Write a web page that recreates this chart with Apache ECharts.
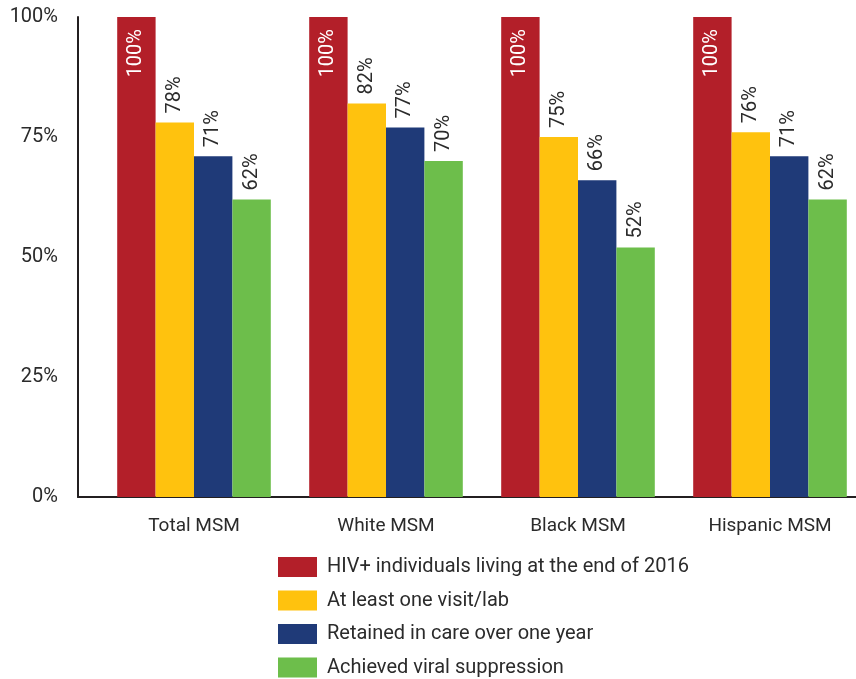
<!DOCTYPE html>
<html><head><meta charset="utf-8">
<script src="https://cdn.jsdelivr.net/npm/echarts@6/dist/echarts.min.js"></script>
<style>html,body{margin:0;padding:0;background:#fff}#c{width:856px;height:679px}</style>
</head><body><div id="c"></div>
<script>
const categories = ['Total MSM', 'White MSM', 'Black MSM', 'Hispanic MSM'];
const seriesNames = ['HIV+ individuals living at the end of 2016', 'At least one visit/lab', 'Retained in care over one year', 'Achieved viral suppression'];
const livingValues = [100, 100, 100, 100];
const visitValues = [78, 82, 75, 76];
const retainedValues = [71, 77, 66, 71];
const suppressedValues = [62, 70, 52, 62];
const yTicks = [0, 25, 50, 75, 100];
const colors = ['#B31F29', '#FFC20E', '#1F3A78', '#6DBE4B'];
const FONT = "'Liberation Sans Narrow', 'Roboto', sans-serif";
const TXT = '#2b2b2b';

const values = [livingValues, visitValues, retainedValues, suppressedValues];
const chart = echarts.init(document.getElementById('c'));
const series = values.map((v, i) => ({
  name: seriesNames[i],
  type: 'bar',
  data: v,
  barGap: '0%',
  barCategoryGap: '20%',
  itemStyle: { color: colors[i] },
  label: i === 0 ? {
    show: true, position: 'insideTop', rotate: 90, align: 'right', verticalAlign: 'middle',
    distance: 12, color: '#fff', fontFamily: FONT, fontSize: 20, formatter: '{c}%'
  } : {
    show: true, position: 'top', rotate: 90, align: 'left', verticalAlign: 'middle',
    distance: 9, color: TXT, fontFamily: FONT, fontSize: 20, formatter: '{c}%'
  }
}));
chart.setOption({
  animation: false,
  grid: [
    { left: 98, width: 768, top: 17, bottom: 182, outerBoundsMode: 'none', containLabel: false },
    { left: 78, right: 0, top: 17, bottom: 182, outerBoundsMode: 'none', containLabel: false }
  ],
  xAxis: [{
    type: 'category', data: categories, gridIndex: 0,
    axisLine: { show: false },
    axisTick: { show: false },
    axisLabel: { color: TXT, fontFamily: FONT, fontSize: 19, margin: 20 }
  }, {
    type: 'value', gridIndex: 1, min: 0, max: 1,
    axisLine: { show: true, lineStyle: { color: '#231F20', width: 2 } },
    axisTick: { show: false }, axisLabel: { show: false }, splitLine: { show: false }
  }],
  yAxis: [{
    type: 'value', min: 0, max: 100, interval: 25, gridIndex: 0, offset: 20,
    axisLine: { show: true, lineStyle: { color: '#231F20', width: 2 } },
    axisTick: { show: false },
    splitLine: { show: false },
    axisLabel: { color: TXT, fontFamily: FONT, fontSize: 20, margin: 20,
      formatter: v => yTicks.includes(v) ? v + '%' : '' }
  }, {
    type: 'value', gridIndex: 1, show: false, min: 0, max: 1, splitLine: { show: false }
  }],
  legend: {
    orient: 'vertical', left: 273, top: 552, height: 140,
    itemWidth: 39, itemHeight: 20, itemGap: 13.5,
    icon: 'rect',
    textStyle: { color: TXT, fontFamily: FONT, fontSize: 20, padding: [0, 0, 0, 5] },
    data: seriesNames
  },
  series
});
</script></body></html>
